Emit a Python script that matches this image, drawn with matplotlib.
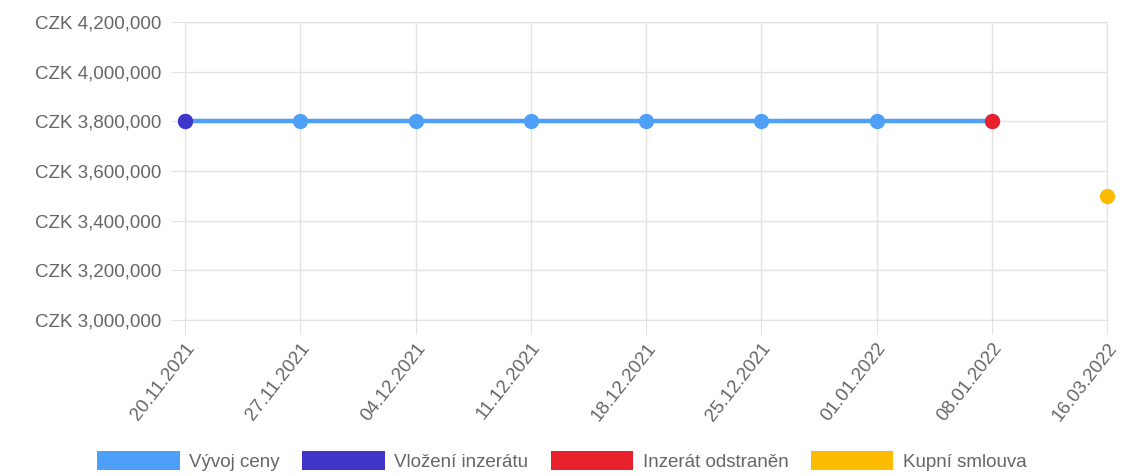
import matplotlib.pyplot as plt
from matplotlib.patches import Patch
from matplotlib.ticker import FuncFormatter
from matplotlib.transforms import ScaledTranslation

plt.rcParams['font.family'] = ['Liberation Sans', 'DejaVu Sans']

dates = ['20.11.2021', '27.11.2021', '04.12.2021', '11.12.2021', '18.12.2021',
         '25.12.2021', '01.01.2022', '08.01.2022', '16.03.2022']
price_history = [3800000, 3800000, 3800000, 3800000, 3800000,
                 3800000, 3800000, 3800000]
listing_added = [(0, 3800000)]
listing_removed = [(7, 3800000)]
purchase_contract = [(8, 3500000)]

series_names = ['Vývoj ceny', 'Vložení inzerátu', 'Inzerát odstraněn', 'Kupní smlouva']
colors = ['#4d9ff7', '#3f35c9', '#e8212c', '#fdbc00']

grid_c = '#e2e2e2'
text_c = '#666666'

fig = plt.figure(figsize=(11.27, 4.76), dpi=100)
ax = fig.add_axes([185 / 1127, 1 - 320 / 476, (1107 - 185) / 1127, (320 - 22) / 476])

x = list(range(len(price_history)))
ax.plot(x, price_history, color=colors[0], lw=3.2, marker='o', ms=11,
        mec='none', clip_on=False, zorder=3)

for pts, c in zip([listing_added, listing_removed, purchase_contract], colors[1:]):
    ax.plot([p[0] for p in pts], [p[1] for p in pts], 'o', color=c, ms=11,
            mec='none', clip_on=False, zorder=4)

ax.set_xlim(0, len(dates) - 1)
ax.set_ylim(3000000, 4200000)
ax.set_yticks(range(3000000, 4200001, 200000))
ax.yaxis.set_major_formatter(FuncFormatter(lambda v, p: 'CZK {:,.0f}'.format(v)))
ax.set_xticks(range(len(dates)))
ax.set_xticklabels(dates, rotation=52, ha='right', va='top', rotation_mode='anchor')

# nudge rotated date labels so their ends sit just right of the tick
shift = ScaledTranslation(9 / 100, 4 / 100, fig.dpi_scale_trans)
for lbl in ax.get_xticklabels():
    lbl.set_transform(lbl.get_transform() + shift)

ax.grid(True, color=grid_c, lw=1)
ax.set_axisbelow(True)
for s in ax.spines.values():
    s.set_color(grid_c)
ax.tick_params(axis='y', length=10, color=grid_c, labelcolor=text_c,
               labelsize=13.5, pad=7)
ax.tick_params(axis='x', length=10, color=grid_c, labelcolor=text_c,
               labelsize=13.5, pad=4)

handles = [Patch(facecolor=c, edgecolor='none') for c in colors]
fig.legend(handles, series_names, loc='center', bbox_to_anchor=(562 / 1127, 1 - 461 / 476),
           ncol=4, frameon=False, fontsize=13.5, labelcolor=text_c,
           handlelength=4.4, handleheight=1.2, handletextpad=0.5, columnspacing=1.2)

fig.savefig('out.png', dpi=100)
